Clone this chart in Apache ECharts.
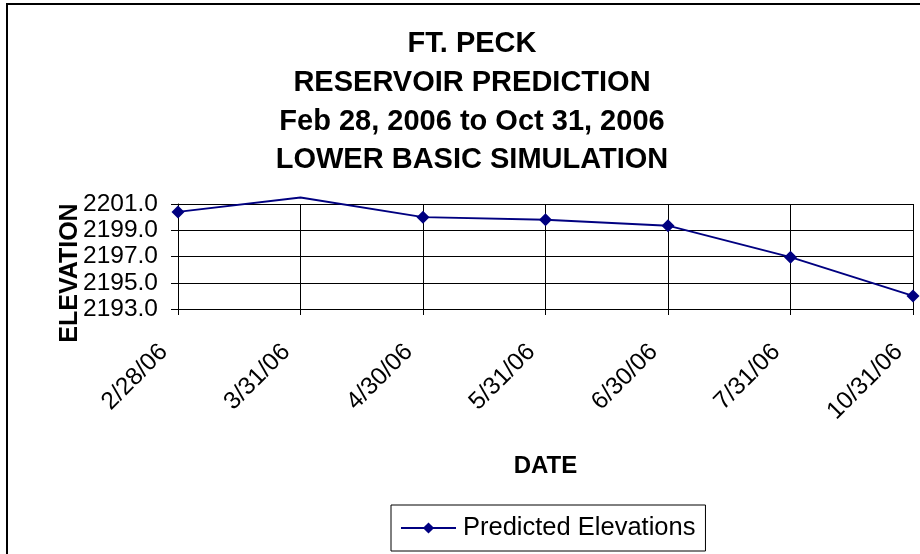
<!DOCTYPE html>
<html>
<head>
<meta charset="utf-8">
<script src="https://cdn.jsdelivr.net/npm/echarts@6/dist/echarts.min.js"></script>
<style>
html,body{margin:0;padding:0;background:#fff;}
#chart{width:920px;height:554px;}
</style>
</head>
<body>
<div id="chart"></div>
<script>
var titleLines = ['FT. PECK', 'RESERVOIR PREDICTION', 'Feb 28, 2006 to Oct 31, 2006', 'LOWER BASIC SIMULATION'];
var categories = ['2/28/06', '3/31/06', '4/30/06', '5/31/06', '6/30/06', '7/31/06', '10/31/06'];
var elevations = [2200.4, 2201.5, 2200.0, 2199.8, 2199.35, 2196.95, 2194.0];
var seriesName = 'Predicted Elevations';
var yMin = 2193, yMax = 2201, yStep = 2;

var FONT = 'Liberation Sans, Arial, sans-serif';
var chart = echarts.init(document.getElementById('chart'), null, {renderer: 'canvas'});

var seriesData = elevations.map(function (v) {
  return v > yMax || v < yMin ? {value: v, symbol: 'none'} : v;
});

chart.setOption({
  animation: false,
  backgroundColor: '#fff',
  title: {
    text: titleLines.join('\n'),
    left: 472,
    top: 25,
    padding: 0,
    textAlign: 'center',
    textStyle: {fontFamily: FONT, fontSize: 29, fontWeight: 'bold', color: '#000', lineHeight: 38.7}
  },
  graphic: [
    {type: 'rect', shape: {x: 7, y: 4, width: 960, height: 600}, style: {fill: 'none', stroke: '#000', lineWidth: 2}, silent: true},
    {type: 'text', x: 70, y: 273, rotation: Math.PI / 2,
     style: {text: 'ELEVATION', font: 'bold 25px ' + FONT, fill: '#000', textAlign: 'center', textVerticalAlign: 'middle'}}
  ],
  legend: {
    data: [seriesName],
    left: 391, top: 505,
    orient: 'horizontal',
    padding: [10, 10, 10, 9],
    borderColor: '#000', borderWidth: 1,
    itemWidth: 55, itemHeight: 14, itemGap: 5,
    textStyle: {fontFamily: FONT, fontSize: 25.5, color: '#000', lineHeight: 26, padding: [0, 0, 0, 2]}
  },
  grid: {left: 178, right: 7, top: 204, bottom: 245, containLabel: false},
  xAxis: {
    type: 'category',
    data: categories,
    boundaryGap: false,
    name: 'DATE',
    nameLocation: 'middle',
    nameGap: 145,
    nameTextStyle: {fontFamily: FONT, fontSize: 24, fontWeight: 'bold', color: '#000'},
    axisLine: {lineStyle: {color: '#000', width: 1}},
    axisTick: {show: true, length: 6, lineStyle: {color: '#000'}},
    splitLine: {show: true, lineStyle: {color: '#000', width: 1}},
    axisLabel: {rotate: 45, margin: 25, padding: [0, 20, 0, 0], fontFamily: FONT, fontSize: 24.5, color: '#000', interval: 0}
  },
  yAxis: {
    type: 'value',
    min: yMin, max: yMax, interval: yStep,
    axisLine: {show: true, lineStyle: {color: '#000', width: 1}},
    axisTick: {show: true, length: 7, lineStyle: {color: '#000'}},
    splitLine: {show: true, lineStyle: {color: '#000', width: 1}},
    axisLabel: {margin: 20, fontFamily: FONT, fontSize: 24.5, color: '#000',
      formatter: function (v) { return v.toFixed(1); }}
  },
  series: [{
    name: seriesName,
    type: 'line',
    data: seriesData,
    clip: false,
    symbol: 'diamond',
    symbolSize: 13,
    showAllSymbol: true,
    lineStyle: {color: '#000080', width: 2},
    itemStyle: {color: '#000080'}
  }]
});
</script>
</body>
</html>
